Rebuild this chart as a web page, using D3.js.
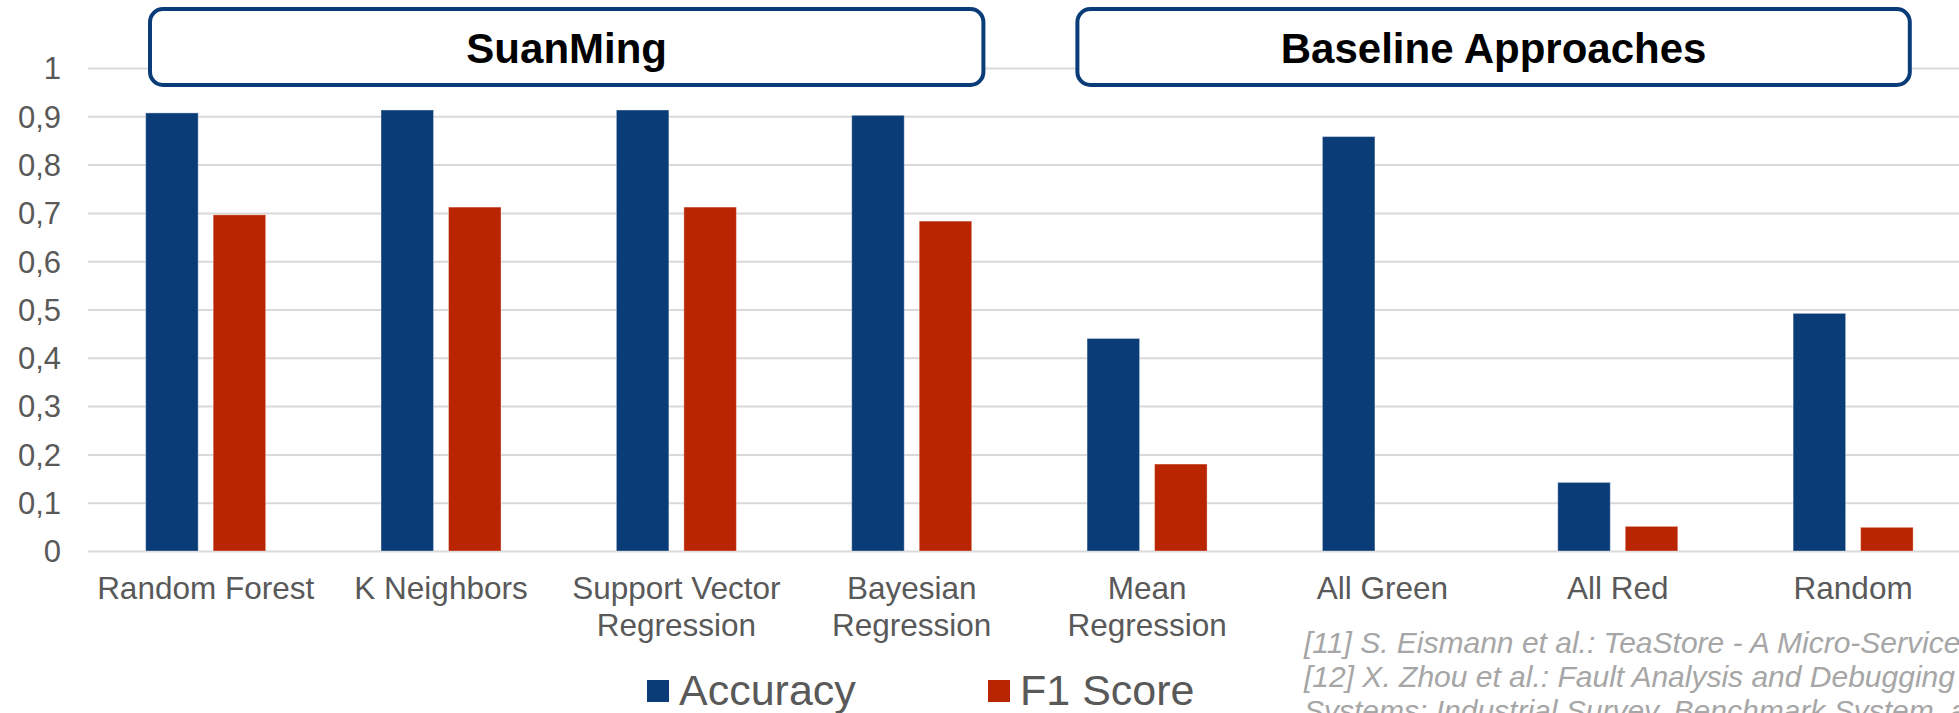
<!DOCTYPE html>
<html>
<head>
<meta charset="utf-8">
<script src="https://cdn.jsdelivr.net/npm/d3@7"></script>
<style>
  html, body { margin: 0; padding: 0; background: #ffffff; overflow: hidden; }
  svg { display: block; }
  text { font-family: "Liberation Sans", Arial, sans-serif; }
</style>
</head>
<body>
<svg id="chart" width="1959" height="713"></svg>
<script>
// ---------- data ----------
const categories = ["Random Forest", "K Neighbors", "Support Vector Regression", "Bayesian Regression",
                    "Mean Regression", "All Green", "All Red", "Random"];
const categoryLines = [["Random Forest"], ["K Neighbors"], ["Support Vector", "Regression"],
                       ["Bayesian", "Regression"], ["Mean", "Regression"], ["All Green"], ["All Red"], ["Random"]];
const seriesNames = ["Accuracy", "F1 Score"];
const accuracy = [0.907, 0.913, 0.913, 0.902, 0.440, 0.858, 0.142, 0.492];
const f1Score  = [0.696, 0.712, 0.712, 0.683, 0.180, 0.000, 0.051, 0.049];
const yTicks = [0, 0.1, 0.2, 0.3, 0.4, 0.5, 0.6, 0.7, 0.8, 0.9, 1];
const groupNames = ["SuanMing", "Baseline Approaches"];
const groupMembers = [[0, 3], [4, 7]];
const footnotes = [
  "[11] S. Eismann et al.: TeaStore - A Micro-Service Reference Application for Benchmarking, Modeling and Resource Management Research",
  "[12] X. Zhou et al.: Fault Analysis and Debugging of Microservice",
  "Systems: Industrial Survey, Benchmark System, and Empirical Study"
];

// ---------- style ----------
const blue = "#0a3c78", red = "#b92500", grid = "#d9d9d9", axisText = "#595959";
const svg = d3.select("#chart");

const x0 = d3.scaleBand().domain(categories).range([88, 88 + 8 * 235.35]).padding(0);
const groupW = 120;
const x1 = d3.scaleBand().domain(seriesNames).range([0, groupW]).paddingInner(15 / 67.5).paddingOuter(0);
const y = d3.scaleLinear().domain([0, 1]).range([551, 68]);
const fmt = v => d3.format(".1~f")(v).replace(".", ",");

// gridlines
const yAxis = d3.axisLeft(y).tickValues(yTicks).tickFormat(fmt).tickSize(-(1959 - 88)).tickPadding(27);
const gAxis = svg.append("g").attr("transform", "translate(88,0)").call(yAxis);
gAxis.select(".domain").remove();
gAxis.selectAll(".tick line").attr("stroke", grid).attr("stroke-width", 2);
gAxis.selectAll(".tick text")
  .attr("fill", axisText).attr("font-size", 31)
  .attr("font-family", "'Liberation Sans', Arial, sans-serif")
  .attr("dy", "0.35em");

// bars
const rows = categories.map((c, i) => ({ cat: c, values: [accuracy[i], f1Score[i]] }));
const colors = d3.scaleOrdinal().domain(seriesNames).range([blue, red]);
const groups = svg.append("g").selectAll("g").data(rows).join("g")
  .attr("transform", d => `translate(${x0(d.cat) + (x0.bandwidth() - groupW) / 2},0)`);
groups.selectAll("rect")
  .data(d => seriesNames.map((s, k) => ({ s, v: d.values[k] })))
  .join("rect")
  .attr("x", d => x1(d.s))
  .attr("width", x1.bandwidth())
  .attr("y", d => y(d.v))
  .attr("height", d => y(0) - y(d.v))
  .attr("fill", d => colors(d.s))
  .attr("stroke", d => d.v > 0 ? "#ffffff" : "none")
  .attr("stroke-opacity", 0.35)
  .attr("stroke-width", 1);

// category labels
const catG = svg.append("g");
categories.forEach((c, i) => {
  const cx = x0(c) + x0.bandwidth() / 2;
  const t = catG.append("text")
    .attr("x", cx).attr("y", 599)
    .attr("text-anchor", "middle")
    .attr("fill", axisText).attr("font-size", 31.5);
  categoryLines[i].forEach((line, k) => {
    t.append("tspan").attr("x", cx).attr("y", 599 + k * 37).text(line);
  });
});

// group header boxes
const insets = [[60, 44], [46, 59]];
groupNames.forEach((name, g) => {
  const [a, b] = groupMembers[g];
  const left = x0(categories[a]) + insets[g][0];
  const right = x0(categories[b]) + x0.bandwidth() - insets[g][1];
  svg.append("rect")
    .attr("x", left + 2).attr("y", 9)
    .attr("width", right - left - 4).attr("height", 76)
    .attr("rx", 13).attr("ry", 13)
    .attr("fill", "#ffffff").attr("stroke", blue).attr("stroke-width", 4);
  svg.append("text")
    .attr("x", (left + right) / 2).attr("y", 63)
    .attr("text-anchor", "middle")
    .attr("font-size", 42).attr("font-weight", "bold").attr("fill", "#000000")
    .text(name);
});

// legend
const legend = svg.append("g");
const legendX = [647, 988];
seriesNames.forEach((s, k) => {
  legend.append("rect").attr("x", legendX[k]).attr("y", 680).attr("width", 22).attr("height", 22)
    .attr("fill", colors(s));
  legend.append("text").attr("x", legendX[k] + 32).attr("y", 705)
    .attr("font-size", 43).attr("fill", axisText).text(s);
});

// footnotes
footnotes.forEach((f, k) => {
  svg.append("text").attr("x", 1304).attr("y", 653 + k * 34)
    .attr("font-size", 30).attr("font-style", "italic").attr("fill", "#a6a6a6").text(f);
});
</script>
</body>
</html>
